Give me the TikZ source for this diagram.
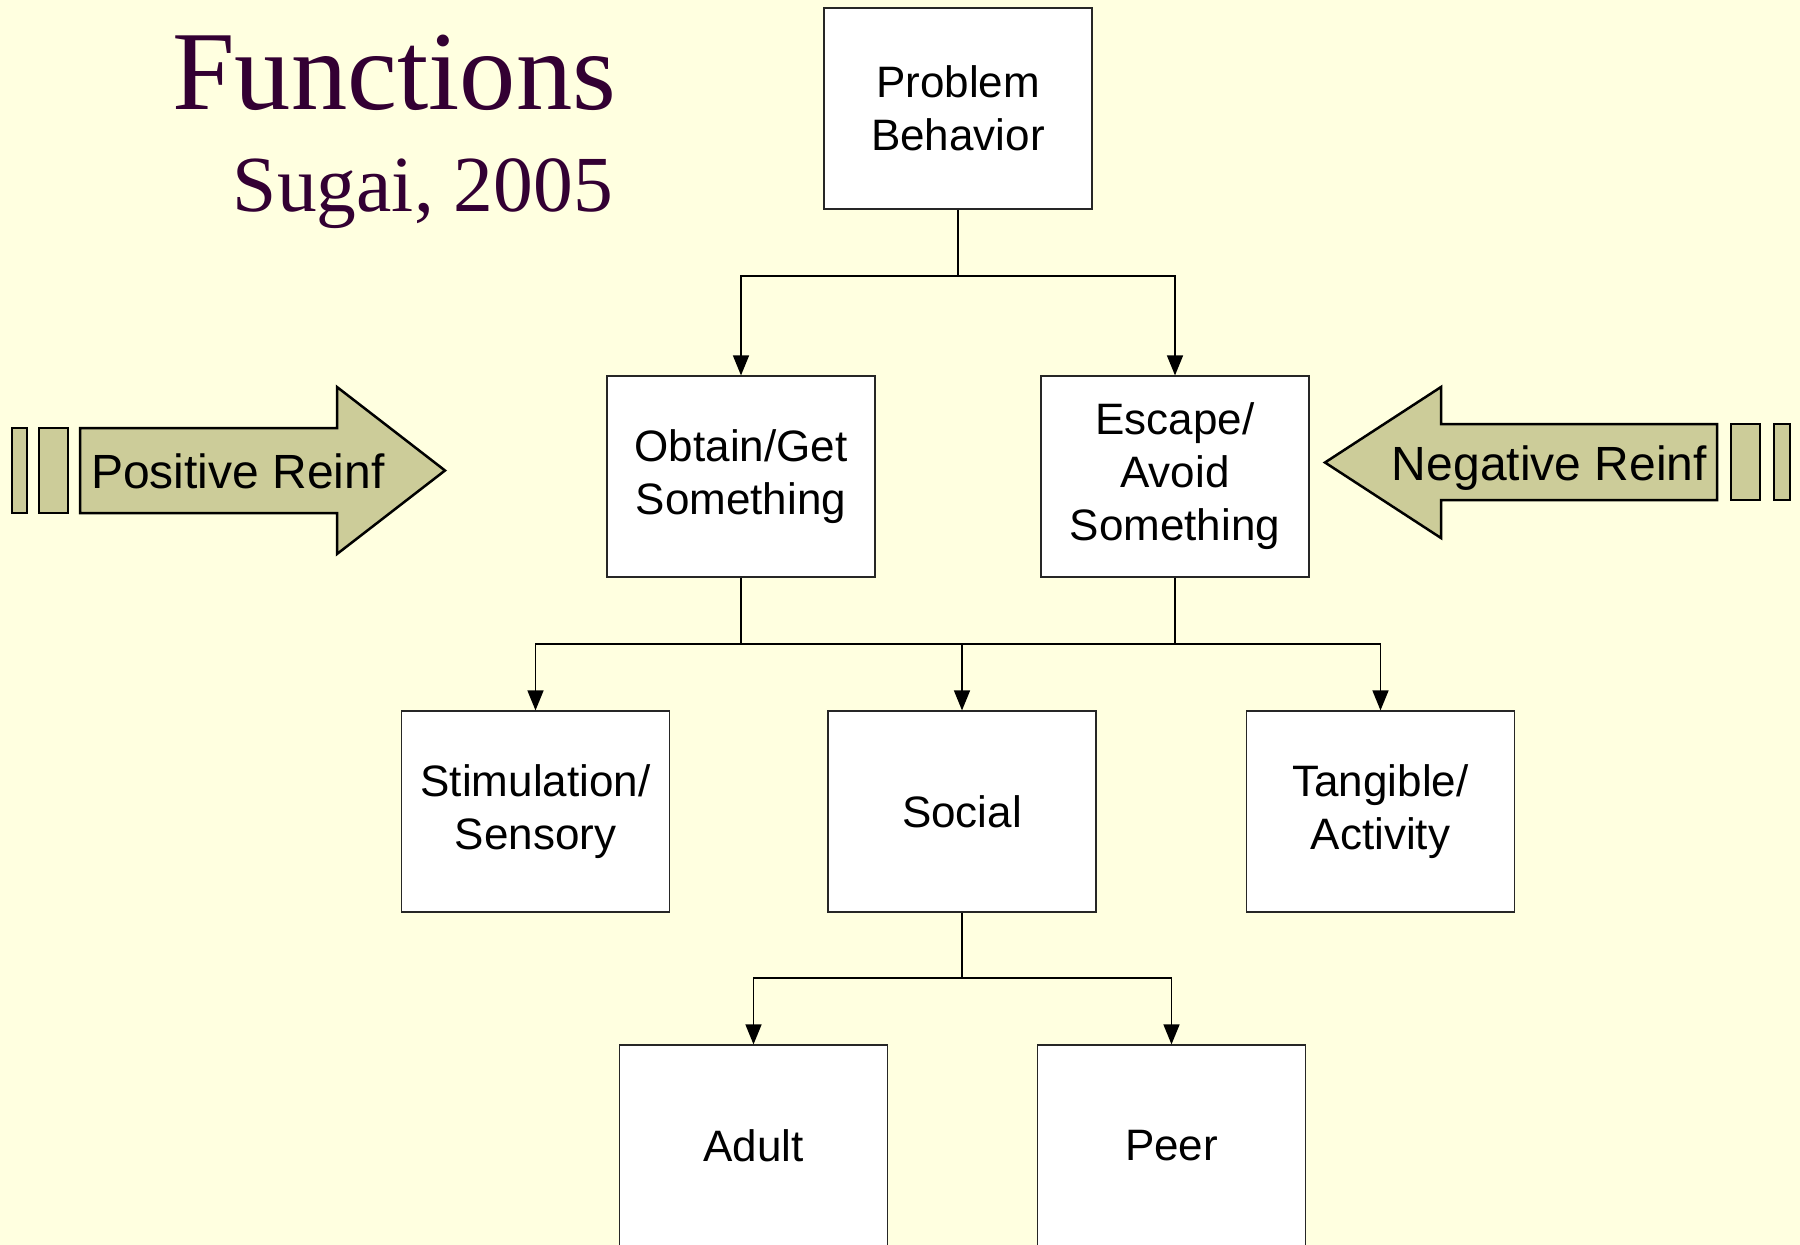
\documentclass[tikz,border=0pt]{standalone}
\usepackage{fontspec}
\setmainfont{Liberation Serif}
\newfontfamily\arial{Liberation Sans}
\usetikzlibrary{arrows.meta}

\definecolor{slidebg}{RGB}{255,255,224}
\definecolor{arrowfill}{RGB}{204,204,153}
\definecolor{titlecol}{RGB}{51,0,51}

\begin{document}
\begin{tikzpicture}[x=1pt,y=-1pt,
  box/.style={draw=black!85, line width=1.2pt, fill=white, rectangle,
    minimum width=268pt, minimum height=201pt, inner sep=0pt,
    align=center, font=\arial\fontsize{44}{53}\selectfont},
  conn/.style={draw=black, line width=1.5pt},
  conna/.style={conn, -{Triangle[length=20pt,width=16pt]}},
  bigarrow/.style={draw=black, line width=2.5pt, fill=arrowfill, line join=miter},
  arrowtext/.style={font=\arial\fontsize{48}{58}\selectfont, inner sep=0pt},
]
% page and background
\fill[slidebg] (0,0) rectangle (1800,1245);
\useasboundingbox (0,0) rectangle (1800,1245);
\clip (0,0) rectangle (1800,1245);

% title
\node[anchor=base west, inner sep=0pt, text=titlecol,
      font=\fontsize{112.5}{120}\selectfont] (title) at (172,109) {Functions};
\node[anchor=base east, inner sep=0pt, text=titlecol,
      font=\fontsize{79.5}{90}\selectfont] (author) at (613,211) {Sugai, 2005};

% boxes
\node[box] (pb)    at (958,108.5)   {Problem\\Behavior};
\node[box] (obt)   at (741,476.5)   {Obtain/Get\\Something};
\node[box] (esc)   at (1175,476.5)  {Escape/\\Avoid\\Something};
\node[box] (stim)  at (535.5,811.5) {Stimulation/\\Sensory};
\node[box] (soc)   at (962,811.5)   {Social};
\node[box] (tan)   at (1380.5,811.5){Tangible/\\Activity};
\node[box] (adult) at (753.5,1145.5){Adult};
\node[box] (peer)  at (1171.5,1145.5){Peer};

% junction points
\coordinate (j1) at (958,276);
\coordinate (j2) at (741,644);
\coordinate (j3) at (1175,644);
\coordinate (j4) at (962,978);

% connectors
\draw[conn] (pb.south) -- (j1);
\draw[conna] (j1) -| (obt.north);
\draw[conna] (j1) -| (esc.north);

\draw[conn] (obt.south) -- (j2);
\draw[conn] (esc.south) -- (j3);
\draw[conn] (j2) -- (j3);
\draw[conna] (j2) -| (stim.north);
\draw[conna] (j2) -| (soc.north);
\draw[conna] (j3) -| (tan.north);

\draw[conn] (soc.south) -- (j4);
\draw[conna] (j4) -| (adult.north);
\draw[conna] (j4) -| (peer.north);

% positive reinforcement arrow
\draw[bigarrow] (12,428) rectangle (27,513);
\draw[bigarrow] (39,428) rectangle (68,513);
\draw[bigarrow] (80,428) -- (337,428) -- (337,387) -- (445,470.5)
  -- (337,554) -- (337,513) -- (80,513) -- cycle;
\node[arrowtext, anchor=base west] (posl) at (91,488) {Positive Reinf};

% negative reinforcement arrow
\draw[bigarrow] (1731,424) rectangle (1760,500);
\draw[bigarrow] (1774,424) rectangle (1790,500);
\draw[bigarrow] (1717,424) -- (1441,424) -- (1441,387) -- (1325,462.5)
  -- (1441,538) -- (1441,500) -- (1717,500) -- cycle;
\node[arrowtext, anchor=base east] (negl) at (1707,480) {Negative Reinf};
\end{tikzpicture}
\end{document}
